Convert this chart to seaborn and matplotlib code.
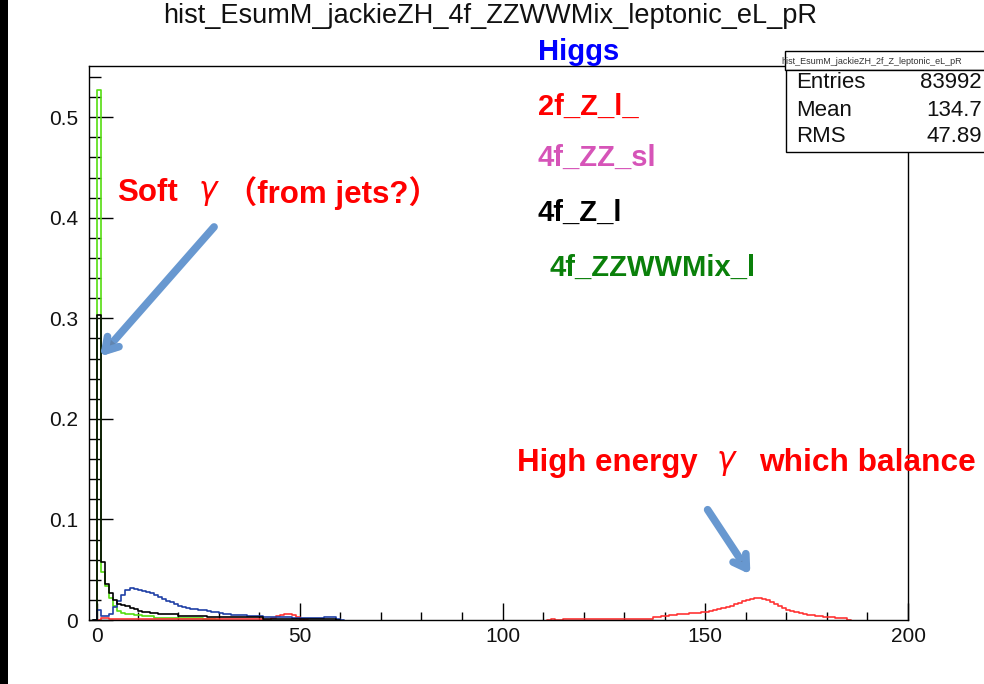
import numpy as np
import pandas as pd
import matplotlib
matplotlib.use("Agg")
import matplotlib.pyplot as plt
import matplotlib.patheffects as pe
from matplotlib.patches import Rectangle
from matplotlib.ticker import MultipleLocator, FuncFormatter
import seaborn as sns

# ---- histogram contents (unit-width bins, first bin left edge given by *_start) ----
green_start = -1   # 4f_ZZWWMix_l
green_vals = [0, 0.527, 0.048, 0.034, 0.022, 0.014, 0.009, 0.007, 0.006, 0.006,
              0.005, 0.005, 0.004, 0.004, 0.004, 0.002, 0.002, 0.002, 0.002, 0.002,
              0.002, 0.002, 0.002, 0.002, 0.002, 0.002, 0.002, 0.001, 0.001, 0.001, 0]

black_start = -1   # 4f_Z_l
black_vals = [0, 0.303, 0.058, 0.036, 0.027, 0.020, 0.016, 0.015, 0.014, 0.012,
              0.011, 0.009, 0.008, 0.008, 0.007, 0.007, 0.006, 0.006, 0.006, 0.006,
              0.006, 0.004, 0.004, 0.004, 0.004, 0.004, 0.004, 0.004, 0.003, 0.003,
              0.003, 0.003, 0.003, 0.003, 0.003, 0.003, 0.003, 0.003, 0.003, 0.003,
              0.003, 0.003, 0.001, 0.001, 0.001, 0.001, 0.001, 0.001, 0.001, 0.001,
              0.001, 0.001, 0.001, 0.001, 0.001, 0.001, 0.001, 0.001, 0.001, 0.001, 0]

blue_start = -1    # Higgs
blue_vals = [0, 0.010, 0.004, 0.004, 0.006, 0.013, 0.019, 0.025, 0.030, 0.032,
             0.031, 0.030, 0.029, 0.028, 0.027, 0.025, 0.023, 0.021, 0.019, 0.018,
             0.016, 0.014, 0.013, 0.012, 0.011, 0.011, 0.010, 0.010, 0.009, 0.008,
             0.008, 0.007, 0.006, 0.006, 0.005, 0.005, 0.005, 0.005, 0.004, 0.004,
             0.004, 0.004, 0.003, 0.003, 0.003, 0.003, 0.003, 0.003, 0.003, 0.002,
             0.002, 0.002, 0.002, 0.002, 0.002, 0.002, 0.002, 0.003, 0.003, 0.003,
             0.001, 0]

red_low_start = 0  # 2f_Z_l_, soft part
red_low_vals = [0, 0.002, 0.002, 0.001, 0.0005, 0.0005, 0.0005, 0.0005, 0.0005, 0.0005,
                0.0005, 0.0005, 0.0005, 0.0005, 0.0005, 0.0005, 0.0005, 0.0005, 0.0005, 0.0005,
                0.0005, 0.0005, 0.0005, 0.0005, 0.0005, 0.0005, 0.0005, 0.0005, 0.0005, 0.0005,
                0.0005, 0.0005, 0.0005, 0.0005, 0.0005, 0.0005, 0.0005, 0.0005, 0.0005, 0.0005,
                0.0005, 0, 0, 0.002, 0.004, 0.005, 0.006, 0.006, 0.005, 0.003, 0.001, 0]

red_high_start = 111  # 2f_Z_l_, recoil peak
red_high_vals = [0, 0.0012, 0, 0, 0.0012, 0.0012, 0.0012, 0.0012, 0.0012, 0.0012,
                 0.0012, 0.0012, 0.0012, 0.0012, 0.0012, 0.0012, 0.0012, 0.0012, 0.0012, 0.0012,
                 0.0012, 0.0012, 0.0012, 0.0012, 0.0012, 0.0012,
                 0.003, 0.003, 0.004, 0.004, 0.005, 0.005, 0.006, 0.006, 0.006, 0.007,
                 0.007, 0.007, 0.008, 0.008, 0.009, 0.010, 0.011, 0.012, 0.013, 0.014,
                 0.016, 0.017, 0.019, 0.020, 0.021, 0.022, 0.022, 0.021, 0.020, 0.018,
                 0.016, 0.014, 0.012, 0.010, 0.009, 0.008, 0.007, 0.006, 0.005, 0.005,
                 0.004, 0.004, 0.003, 0.003, 0.003, 0.002, 0.002, 0.002, 0]

legend_labels = ["Higgs", "2f_Z_l_", "4f_ZZ_sl", "4f_Z_l", "4f_ZZWWMix_l"]
legend_colors = ["#0000ff", "#ff0000", "#d654b8", "#000000", "#0a800a"]

stat_names = ["Entries", "Mean", "RMS"]
stat_values = ["83992", "134.7", "47.89"]

title = "hist_EsumM_jackieZH_4f_ZZWWMix_leptonic_eL_pR"
stats_title = "hist_EsumM_jackieZH_2f_Z_leptonic_eL_pR"

# ---- figure ----
sns.set_style("ticks")
plt.rcParams["font.family"] = ["Liberation Sans", "Noto Sans CJK JP", "DejaVu Sans"]
plt.rcParams["mathtext.fontset"] = "dejavusans"

W, H = 984, 684
fig = plt.figure(figsize=(W / 100, H / 100), dpi=100)
fig.patch.set_facecolor("white")


def fx(px):
    return px / W


def fy(py):
    return 1 - py / H


ax = fig.add_axes([fx(89), fy(620), fx(908) - fx(89), fy(66) - fy(620)])


def draw_hist(start, vals, color):
    edges = np.arange(start, start + len(vals) + 1, 1.0)
    df = pd.DataFrame({"E": edges[:-1] + 0.5, "w": np.asarray(vals, dtype=float)})
    sns.histplot(data=df, x="E", weights="w", bins=list(edges), element="step", fill=False,
                 color=color, linewidth=1.2, ax=ax)


draw_hist(green_start, green_vals, "#55dd11")
draw_hist(red_low_start, red_low_vals, "#ff3333")
draw_hist(red_high_start, red_high_vals, "#ff3333")
draw_hist(blue_start, blue_vals, "#1f3fa6")
draw_hist(black_start, black_vals, "#000000")

ax.set_xlim(-2, 200)
ax.set_ylim(0, 0.551)
ax.set_xlabel("")
ax.set_ylabel("")

ax.xaxis.set_major_locator(MultipleLocator(50))
ax.xaxis.set_minor_locator(MultipleLocator(10))
ax.yaxis.set_major_locator(MultipleLocator(0.1))
ax.yaxis.set_minor_locator(MultipleLocator(0.02))
ax.yaxis.set_major_formatter(FuncFormatter(lambda v, p: "0" if abs(v) < 1e-9 else f"{v:.1f}"))

ax.tick_params(which="both", direction="in", top=False, right=False,
               width=1.0, color="black", labelsize=15, labelcolor="#111111")
ax.tick_params(axis="y", which="major", length=17, pad=8)
ax.tick_params(axis="y", which="minor", length=8.5)
ax.tick_params(axis="x", which="major", length=12, pad=5)
ax.tick_params(axis="x", which="minor", length=6)
for s in ax.spines.values():
    s.set_visible(True)
    s.set_linewidth(1.0)
    s.set_color("black")

# left dark strip
fig.add_artist(Rectangle((0, 0), fx(8), 1, transform=fig.transFigure,
                         facecolor="black", edgecolor="none"))

# title
fig.text(fx(490), fy(16), title, ha="center", va="center", fontsize=19.5, color="#111111")

# colour legend as plain labels
legend_xy = [(538, 52), (538, 107), (538, 158), (538, 213), (550, 268)]
for lab, col, (px, py) in zip(legend_labels, legend_colors, legend_xy):
    fig.text(fx(px), fy(py), lab, color=col, fontsize=21, fontweight="bold",
             ha="left", va="center")

# annotations (text pieces placed separately so the gamma and the wide brackets keep their fonts)
note_kw = dict(color="#ff0000", fontsize=22.5, fontweight="bold", ha="left", va="center")
fig.text(fx(117), fy(193), "Soft", **note_kw)
fig.text(fx(198), fy(193), r"$\gamma$", **note_kw)
fig.text(fx(226), fy(193), "（from jets?）", **note_kw)
fig.text(fx(517), fy(463), "High energy", **note_kw)
fig.text(fx(716), fy(463), r"$\gamma$", **note_kw)
fig.text(fx(759), fy(463), "which balance", **dict(note_kw, fontsize=22.8))

arrow_kw = dict(arrowstyle="->, head_length=0.9, head_width=0.55", color="#6898d0", lw=5.5,
                path_effects=[pe.SimplePatchShadow(offset=(2, -2), alpha=0.25), pe.Normal()])
ax.annotate("", xy=(0.3, 0.26), xytext=(29.3, 0.393), arrowprops=arrow_kw,
            annotation_clip=False)
ax.annotate("", xy=(161.5, 0.043), xytext=(150.2, 0.112), arrowprops=arrow_kw,
            annotation_clip=False)

# statistics box
fig.add_artist(Rectangle((fx(785), fy(70)), fx(1000) - fx(785), fy(51) - fy(70),
                         transform=fig.transFigure, facecolor="white", edgecolor="black", lw=1.0))
fig.add_artist(Rectangle((fx(786), fy(152)), fx(1000) - fx(786), fy(70) - fy(152),
                         transform=fig.transFigure, facecolor="white", edgecolor="black", lw=1.0))
fig.text(fx(781), fy(61), stats_title, fontsize=6.5, color="#333333", ha="left", va="center")
for i, (n, v) in enumerate(zip(stat_names, stat_values)):
    yy = 83 + 27 * i
    fig.text(fx(796), fy(yy), n, fontsize=16, color="#111111", ha="left", va="center")
    fig.text(fx(982), fy(yy), v, fontsize=16, color="#111111", ha="right", va="center")

fig.savefig("out.png", dpi=100)
